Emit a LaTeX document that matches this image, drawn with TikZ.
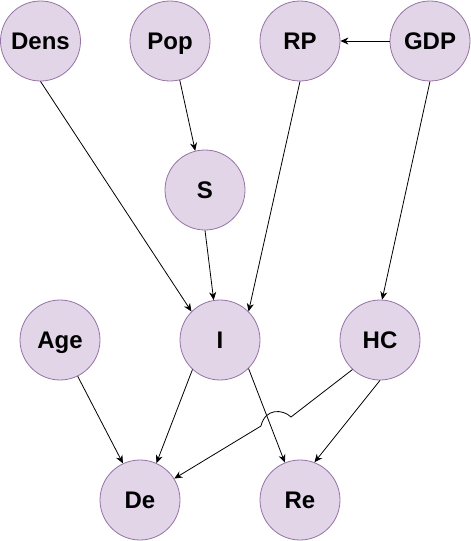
\documentclass[tikz,border=0pt]{standalone}
\usepackage{fontspec}
\setmainfont{Liberation Sans}
\usetikzlibrary{arrows.meta}
\definecolor{varfill}{HTML}{E1D5E7}
\definecolor{varline}{HTML}{9673A6}
\tikzset{var/.style={
    circle, draw=varline, fill=varfill, line width=0.8pt,
    minimum size=80pt, inner sep=0pt,
    text height=17.2pt, text depth=0pt,
    font=\fontsize{24}{27}\selectfont\bfseries
  },
  edge/.style={
    draw, line width=0.8pt, -{Stealth[length=8pt,width=7pt,inset=2.5pt]}
  }
}

\begin{document}
\begin{tikzpicture}[x=1pt,y=-1pt]
    \useasboundingbox (0,0) rectangle (471,541);

    \node[var] (dens) at (40.5,41) {Dens};
    \node[var] (pop) at (170,41) {Pop};
    \node[var] (rp) at (300,41) {RP};
    \node[var] (gdp) at (430,41) {GDP};
    \node[var] (s) at (205,190) {S};
    \node[var] (age) at (60,340) {Age};
    \node[var] (i) at (220,340) {I};
    \node[var] (hc) at (380,340) {HC};
    \node[var] (de) at (140,500) {De};
    \node[var] (re) at (300,500) {Re};

    \draw[edge] (gdp) -- (rp);
    \draw[edge] (dens.south) -- (i.135);
    \draw[edge] (pop.-76) -- (s.104);
    \draw[edge] (s.south) -- (i.99);
    \draw[edge] (rp.south) -- (i.45);
    \draw[edge] (gdp.south) -- (hc.87);
    \draw[edge] (age.-64) -- (de.115);
    \draw[edge] (i.-133) -- (de.66);
    \draw[edge] (i.-45) -- (re.112);
    \draw[edge] (hc.south) -- (re.69);

    % HC -> De jumps over I -> Re
    \coordinate (jump in) at (291,417);
    \coordinate (jump out) at (261,426);
    \draw[edge] (hc.-133) -- (jump in)
      .. controls (283,409) and (265,408) .. (jump out) -- (de.32);
\end{tikzpicture}
\end{document}
